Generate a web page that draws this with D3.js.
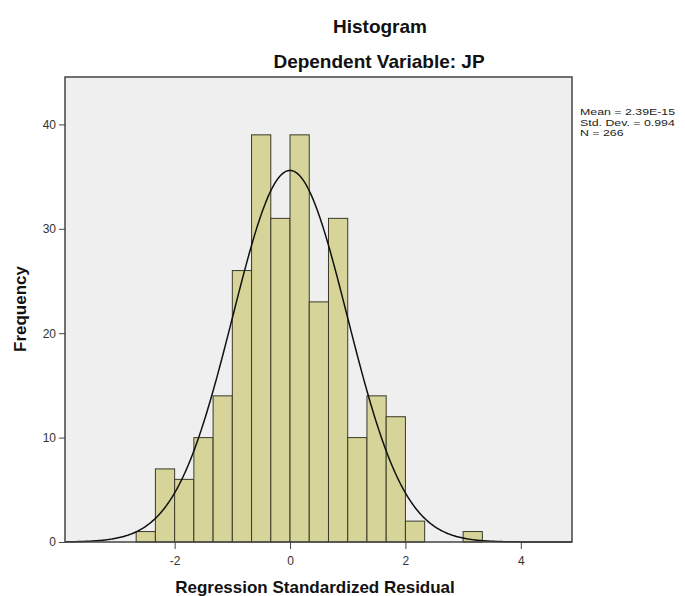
<!DOCTYPE html>
<html lang="en">
    <head>
        <meta charset="utf-8">
        <title>Histogram</title>
        <script type="text/javascript" src="https://d3js.org/d3.v7.min.js"></script>

        <style type="text/css">
            body {
                margin: 0;
                background-color: #ffffff;
            }

            text {
                font-family: "Liberation Sans", Arial, Helvetica, sans-serif;
            }

            /* titles */
            .title {
                font-size: 19px;
                font-weight: bold;
                fill: #111;
            }

            /* axis titles */
            .axis-title {
                font-size: 17px;
                font-weight: bold;
                fill: #111;
            }

            .axis text {
                font-size: 12px;
                fill: #333;
            }

            .axis line {
                stroke: #444;
            }

            .stats {
                font-size: 9.5px;
                fill: #222;
            }
        </style>
    </head>

    <body>
        <svg width="685" height="596" id="chart"></svg>

        <script type="text/javascript">

            // ---- data ----
            // bins of width 1/3, first bin starts at -2.667
            const binStarts = [-8/3, -7/3, -2, -5/3, -4/3, -1, -2/3, -1/3, 0, 1/3, 2/3, 1, 4/3, 5/3, 2, 7/3, 8/3, 3];
            const counts    = [1, 7, 6, 10, 14, 26, 39, 31, 39, 23, 31, 10, 14, 12, 2, 0, 0, 1];
            const binWidth  = 1/3;

            // summary shown at the right
            const statMean = 2.39e-15;
            const statSd = 0.994;
            const statN = 266;
            const statLines = ["Mean = 2.39E-15", "Std. Dev. = 0.994", "N = 266"];

            // tick labels
            const xTicks = [-2, 0, 2, 4];
            const yTicks = [0, 10, 20, 30, 40];

            const svg = d3.select("#chart");

            // plot frame (names avoid window.top)
            const plotLeft = 65, plotRight = 572, plotTop = 77, plotBottom = 542;

            const xScale = d3.scaleLinear()
                            .domain([-3.9, 4.887])
                            .range([plotLeft, plotRight]);

            const yScale = d3.scaleLinear()
                            .domain([0, 44.54])
                            .range([plotBottom, plotTop]);

            // grey background of the plot
            svg.append("rect")
                .attr("x", plotLeft)
                .attr("y", plotTop)
                .attr("width", plotRight - plotLeft)
                .attr("height", plotBottom - plotTop)
                .style("fill", "#efefef");

            // bars (empty bins are not drawn)
            const bins = binStarts.map((s, i) => ({x0: s, x1: s + binWidth, n: counts[i]}))
                                  .filter(d => d.n > 0);

            svg.selectAll("rect.bar")
                .data(bins)
                .enter()
                .append("rect")
                .attr("class", "bar")
                .attr("x", d => xScale(d.x0))
                .attr("y", d => yScale(d.n))
                .attr("width", d => xScale(d.x1) - xScale(d.x0))
                .attr("height", d => yScale(0) - yScale(d.n))
                .style("fill", "#d6d498")
                .style("stroke", "#3a3a2a")
                .style("stroke-width", 1);

            // normal curve from mean, sd and N
            const curveX = d3.range(xScale.domain()[0], xScale.domain()[1], 0.02);
            const normal = x => statN * binWidth / (statSd * Math.sqrt(2 * Math.PI)) *
                                Math.exp(-0.5 * Math.pow((x - statMean) / statSd, 2));

            const line = d3.line()
                        .x(d => xScale(d))
                        .y(d => yScale(normal(d)));

            svg.append("path")
                .datum(curveX)
                .attr("d", line)
                .style("fill", "none")
                .style("stroke", "#111")
                .style("stroke-width", 1.5);

            // frame border
            svg.append("rect")
                .attr("x", plotLeft)
                .attr("y", plotTop)
                .attr("width", plotRight - plotLeft)
                .attr("height", plotBottom - plotTop)
                .style("fill", "none")
                .style("stroke", "#444")
                .style("stroke-width", 1.5);

            // axes (plain hyphen for negatives, like the original)
            const leftAxis = d3.axisLeft(yScale).tickValues(yTicks).tickSize(6).tickPadding(3)
                            .tickFormat(d => String(d));
            const bottomAxis = d3.axisBottom(xScale).tickValues(xTicks).tickSize(7).tickPadding(7)
                            .tickFormat(d => String(d));

            svg.append("g")
                .attr("class", "axis")
                .attr("transform", "translate(" + plotLeft + ",0)")
                .call(leftAxis)
                .call(g => g.select(".domain").remove());

            svg.append("g")
                .attr("class", "axis")
                .attr("transform", "translate(0," + plotBottom + ")")
                .call(bottomAxis)
                .call(g => g.select(".domain").remove());

            svg.selectAll(".axis text").style("font-family", "'Liberation Sans', Arial, sans-serif");

            // titles
            svg.append("text")
                .attr("class", "title")
                .attr("x", 380)
                .attr("y", 33)
                .attr("text-anchor", "middle")
                .text("Histogram");

            svg.append("text")
                .attr("class", "title")
                .attr("x", 379)
                .attr("y", 68)
                .attr("text-anchor", "middle")
                .text("Dependent Variable: JP");

            // axis titles
            svg.append("text")
                .attr("class", "axis-title")
                .attr("x", 315)
                .attr("y", 593)
                .attr("text-anchor", "middle")
                .text("Regression Standardized Residual");

            svg.append("text")
                .attr("class", "axis-title")
                .attr("transform", "translate(20,309) rotate(-90)")
                .attr("dy", "0.35em")
                .attr("text-anchor", "middle")
                .text("Frequency");

            // stats text (the picture is a bit stretched sideways)
            svg.selectAll("text.stats")
                .data(statLines)
                .enter()
                .append("text")
                .attr("class", "stats")
                .attr("x", 580)
                .attr("y", (d, i) => 115 + i * 10.5)
                .text(d => d)
                .each(function () {
                    const w = this.getComputedTextLength();
                    d3.select(this)
                        .attr("textLength", w * 1.3)
                        .attr("lengthAdjust", "spacingAndGlyphs");
                });

        </script>
    </body>
</html>
